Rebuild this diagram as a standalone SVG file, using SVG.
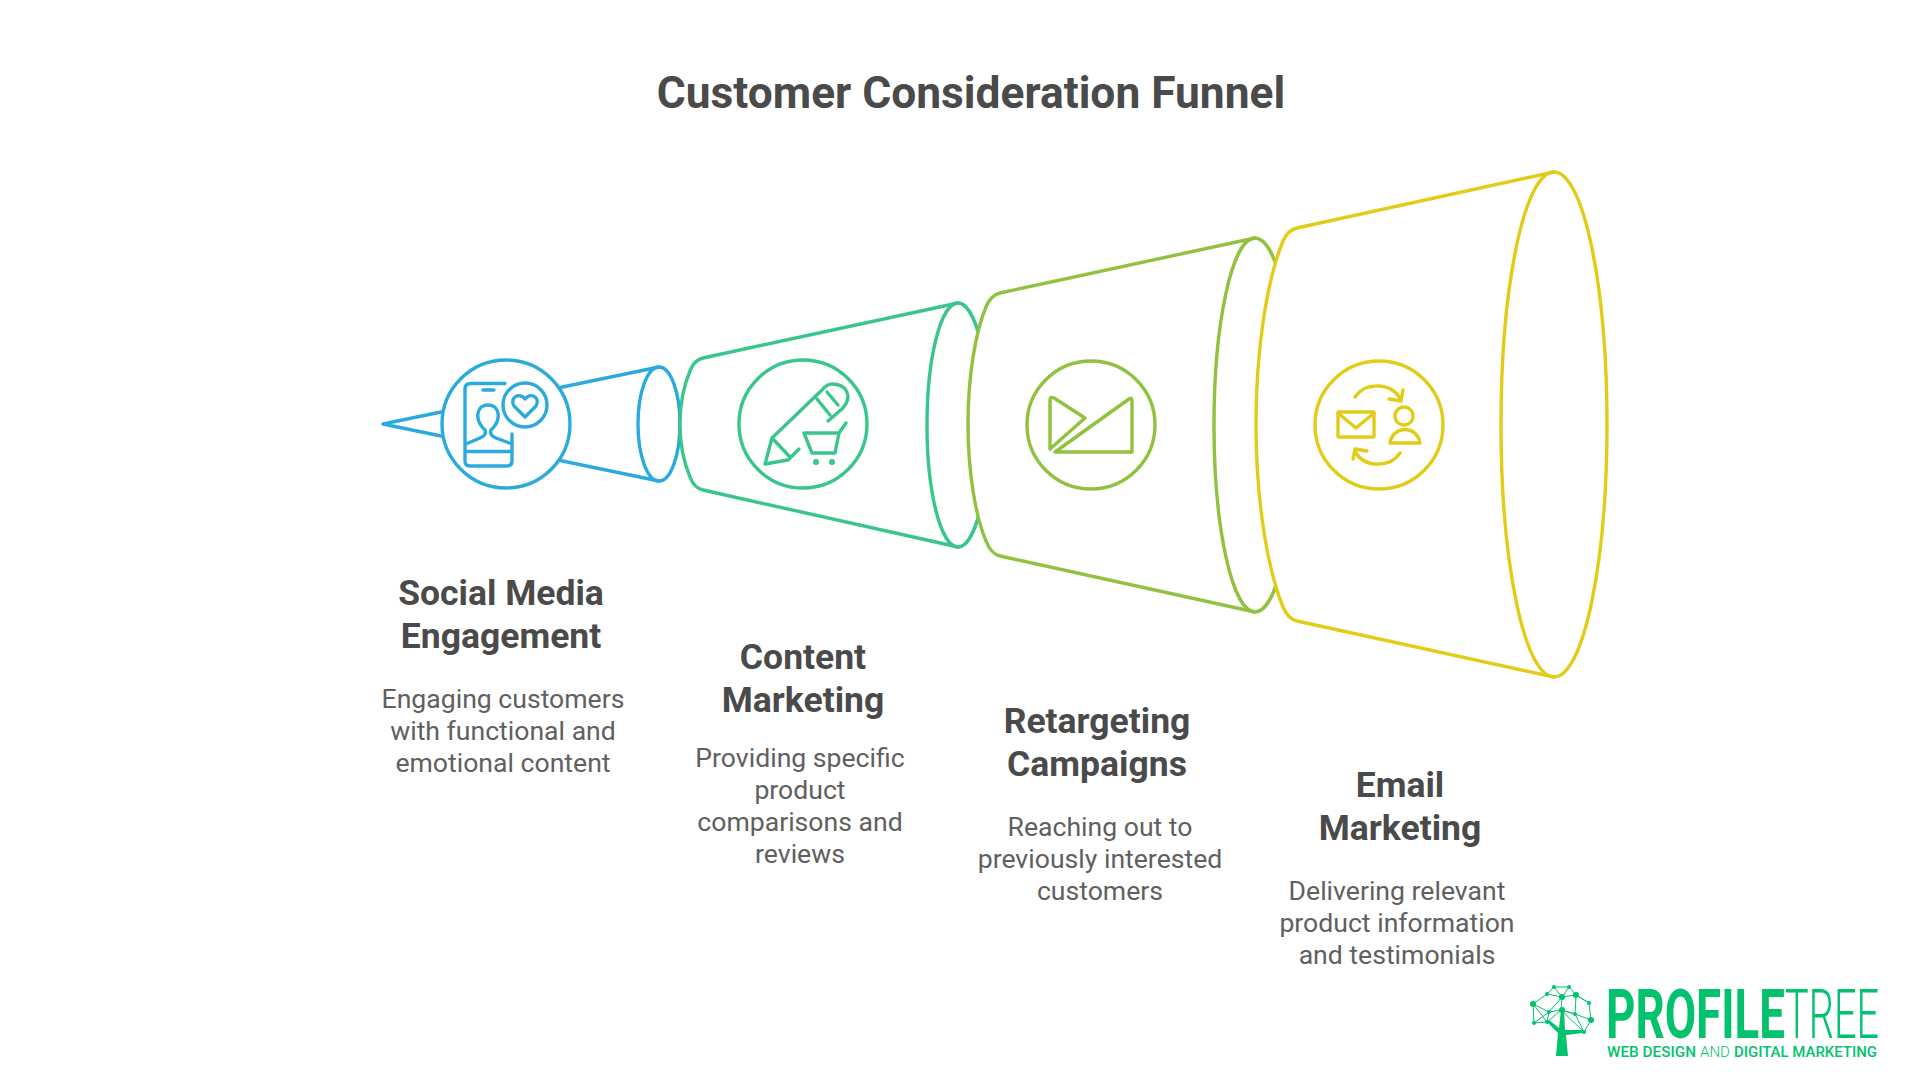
<svg xmlns="http://www.w3.org/2000/svg" width="1920" height="1080" viewBox="0 0 1920 1080">
<style>
text{font-family:Roboto,"Liberation Sans",sans-serif;text-anchor:middle}
.title{font-size:44.300px;font-weight:700;fill:#4a4a4a}
.h{font-size:35.500px;font-weight:700;fill:#4a4a4a}
.b{font-size:26.600px;font-weight:400;fill:#606060}
.s{fill:#fff;stroke-width:3.400;stroke-linejoin:round;stroke-linecap:round}
.i{fill:none;stroke-width:3.400;stroke-linejoin:round;stroke-linecap:round}
.blue{stroke:#2BABDD}.green{stroke:#3AC58C}.olive{stroke:#90C23F}.yellow{stroke:#E1CC17}
.logo{fill:#02C26E}
.ll{stroke:#02C26E;stroke-width:1;fill:none}
.lt{text-anchor:start}
</style>
<rect width="1920" height="1080" fill="#fff"/>
<text class="title" x="971" y="108">Customer Consideration Funnel</text>

<g id="node-social">
<path class="s blue" d="M659 367A21 57 0 0 1 659 481L383 424Z"/>
<path class="i blue" d="M659 367A21 57 0 0 0 659 481"/>
<circle class="s blue" cx="506" cy="424" r="64"/>
<path class="i blue" d="M505 383.500H471Q465 383.500 465 389V461Q465 466 470 466H507Q512 466 512 461V434M483 390H494M465 451.500H512"/>
<path class="i blue" d="M466 444L480 438Q487 435 485 430C474 420 476 405 488 405C500 405 502 420 491 430Q489 435 496 438L512 444"/>
<circle class="i blue" cx="525" cy="405" r="22"/>
<path class="i blue" d="M525 417L514 406C509 397 520 392 525 399C530 392 541 397 536 406Z"/>
<text class="h" x="501" y="605">Social Media</text>
<text class="h" x="501" y="648">Engagement</text>
<text class="b" x="503" y="708">Engaging customers</text>
<text class="b" x="503" y="740">with functional and</text>
<text class="b" x="503" y="772">emotional content</text>
</g>

<g id="node-content">
<path class="s green" d="M958 303A31 122 0 0 1 958 547L703 490Q694 488 690 477C684 463 680 445 680 424C680 403 684 385 690 371Q694 360 703 358Z"/>
<path class="i green" d="M958 303A31 122 0 0 0 958 547"/>
<circle class="i green" cx="803" cy="424" r="64"/>
<path class="i green" d="M828 421L842 409C854 396 846 384 832 384Q827 384 822 390L772 438L765 464L788 460L799 449M772 438L790 457M817 399L830 415M827 392L838 405"/>
<path class="i green" d="M804 433H839L835 453H812ZM839 433L846 423"/>
<circle cx="816" cy="462" r="3" fill="#3AC58C"/><circle cx="832" cy="462" r="3" fill="#3AC58C"/>
<text class="h" x="803" y="669">Content</text>
<text class="h" x="803" y="712">Marketing</text>
<text class="b" x="800" y="767">Providing specific</text>
<text class="b" x="800" y="799">product</text>
<text class="b" x="800" y="831">comparisons and</text>
<text class="b" x="800" y="863">reviews</text>
</g>

<g id="node-retargeting">
<path class="s olive" d="M1255 238A41 187 0 0 1 1255 612L1000 556Q991 554 986 541C975 515 968 470 968 424C968 378 975 333 986 307Q991 295 1000 293Z"/>
<path class="i olive" d="M1255 238A41 187 0 0 0 1255 612"/>
<circle class="i olive" cx="1091" cy="425" r="64"/>
<path class="i olive" d="M1050 400Q1050 396 1054 398L1085 418L1050 449ZM1055 452L1129 399Q1132 397 1132 401V452Z"/>
<text class="h" x="1097" y="733">Retargeting</text>
<text class="h" x="1097" y="776">Campaigns</text>
<text class="b" x="1100" y="836">Reaching out to</text>
<text class="b" x="1100" y="868">previously interested</text>
<text class="b" x="1100" y="900">customers</text>
</g>

<g id="node-email">
<path class="s yellow" d="M1554 172A53 252.500 0 0 1 1554 677L1297 621Q1288 619 1283 607C1266 565 1256 495 1256 424C1256 353 1266 283 1283 241Q1288 230 1297 228Z"/>
<path class="i yellow" d="M1554 172A53 252.500 0 0 0 1554 677"/>
<circle class="i yellow" cx="1379" cy="425" r="64"/>
<rect class="i yellow" x="1338" y="412" width="36" height="25" rx="1"/>
<path class="i yellow" d="M1338 413L1356 428L1374 413M1355 397C1365 382 1390 382 1400 398M1403 390L1401 401L1389 399M1400 453C1390 468 1365 468 1355 452M1353 459L1355 449L1367 451"/>
<circle class="i yellow" cx="1404" cy="416" r="9"/>
<path class="i yellow" d="M1390 443C1393 425 1417 425 1420 443Z"/>
<text class="h" x="1400" y="797">Email</text>
<text class="h" x="1400" y="840">Marketing</text>
<text class="b" x="1397" y="900">Delivering relevant</text>
<text class="b" x="1397" y="932">product information</text>
<text class="b" x="1397" y="964">and testimonials</text>
</g>

<g id="logo">
<path class="logo" d="M1556 1056L1558 1033L1547 1022L1549 1020L1559 1028L1561 1010L1564 1010L1565 1030L1583 1030L1583 1033L1566 1035L1568 1056Z"/>
<path class="ll" d="M1554 987L1569 987L1576 995L1589 1003L1591 1020L1584 1032M1554 987L1547 994L1533 1004L1549 1012L1561 1010L1575 1014L1591 1020M1547 994L1562 997L1576 995L1575 1014L1561 1010L1562 997L1549 1012L1534 1023L1533 1004M1549 1012L1547 1022L1534 1023M1576 995L1589 1003M1562 997L1554 987M1569 987L1562 997M1575 1014L1584 1032L1561 1010M1547 1022L1561 1010M1533 1004L1547 1022"/>
<g class="logo"><circle cx="1554" cy="987" r="2"/><circle cx="1569" cy="987" r="2"/><circle cx="1547" cy="994" r="2"/><circle cx="1562" cy="997" r="3"/><circle cx="1576" cy="995" r="3"/><circle cx="1533" cy="1004" r="3"/><circle cx="1589" cy="1003" r="2"/><circle cx="1549" cy="1012" r="2"/><circle cx="1562" cy="1010" r="3"/><circle cx="1575" cy="1014" r="2"/><circle cx="1534" cy="1023" r="2"/><circle cx="1547" cy="1022" r="2"/><circle cx="1591" cy="1020" r="3"/><circle cx="1584" cy="1032" r="2"/></g>
<text class="logo lt" transform="translate(1606 1038) scale(.66 1)" font-size="68" font-weight="700" textLength="271" lengthAdjust="spacingAndGlyphs">PROFILE</text>
<text class="logo lt" transform="translate(1785 1038) scale(.595 1)" font-size="68" font-weight="300" textLength="158" lengthAdjust="spacingAndGlyphs">TREE</text>
<text class="logo lt" transform="translate(1607 1057) scale(.9 1)" font-size="15.500" font-weight="500" textLength="99" lengthAdjust="spacingAndGlyphs">WEB DESIGN</text>
<text class="logo lt" x="1700" y="1057" font-size="15.500" font-weight="300" textLength="30" lengthAdjust="spacingAndGlyphs">AND</text>
<text class="logo lt" transform="translate(1734 1057) scale(.905 1)" font-size="15.500" font-weight="500" textLength="158" lengthAdjust="spacingAndGlyphs">DIGITAL MARKETING</text>
</g>
</svg>
